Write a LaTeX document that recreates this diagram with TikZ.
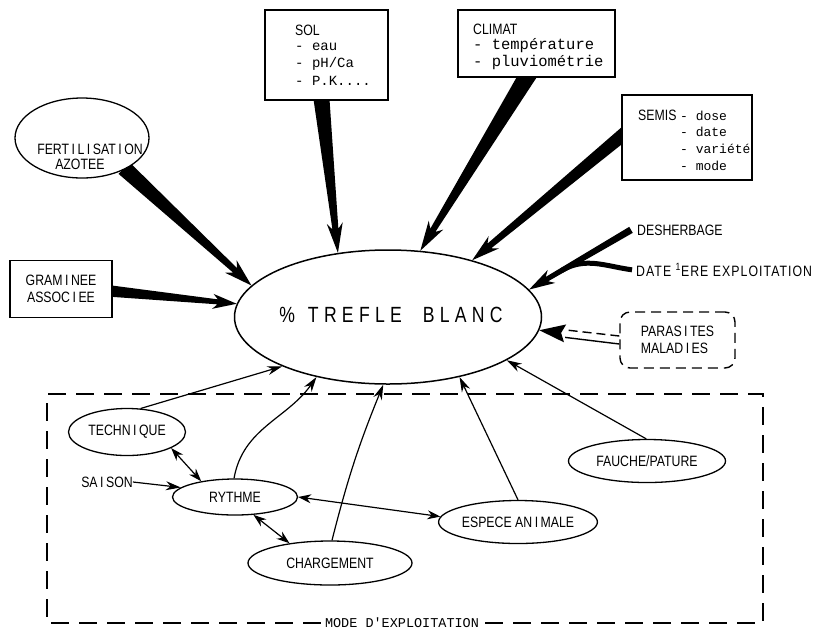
\documentclass[tikz,border=0pt]{standalone}
\usepackage{fontspec}
\usetikzlibrary{calc,shapes.geometric,arrows.meta}
\newfontfamily\labf[FakeStretch=0.82]{Liberation Sans}
\newfontfamily\bigf[FakeStretch=0.8,LetterSpace=24]{Liberation Sans}
\newfontfamily\datef[FakeStretch=0.82,LetterSpace=7]{Liberation Sans}
\newfontfamily\monof{Liberation Mono}
\newcommand\Iw{\kern2.5pt I\kern2.5pt}
\pgfdeclarelayer{background}
\pgfsetlayers{background,main}
% #1 start, #2 tip, #3 half width at start, #4 half width near head, #5 half width of head, #6 head length
\newcommand\wedgearrow[6]{%
  \coordinate (wa-b) at ($(#2)!#6pt!(#1)$);
  \coordinate (wa-n) at ($(#2)!0.8*#6pt!(#1)$);
  \fill ($(#1)!#3pt!90:(#2)$) -- ($(wa-n)!#4pt!90:(#2)$) -- ($(wa-b)!#5pt!90:(#2)$) -- (#2)
     -- ($(wa-b)!#5pt!-90:(#2)$) -- ($(wa-n)!#4pt!-90:(#2)$) -- ($(#1)!#3pt!-90:(#2)$) -- cycle;
}
\begin{document}
\begin{tikzpicture}[x=1pt,y=-1pt,
  labs/.style={font=\labf\fontsize{15}{17}\selectfont, inner sep=0pt},
  boxn/.style={draw, line width=1.5pt, fill=white, inner sep=0pt},
  elln/.style={draw, ellipse, line width=1.3pt, fill=white, inner sep=0pt},
  mtext/.style={font=\monof\fontsize{14}{16}\selectfont, anchor=base west, inner sep=0pt},
  ctxt/.style={font=\monof\fontsize{15.5}{17}\selectfont, anchor=base west, inner sep=0pt},
  stxt/.style={font=\monof\fontsize{13}{15}\selectfont, anchor=base west, inner sep=0pt},
  htxt/.style={labs, anchor=base west},
  arr/.style={line width=1.2pt, -{Stealth[length=15pt,width=9pt]}},
  darr/.style={line width=1.2pt, {Stealth[length=13pt,width=9pt]}-{Stealth[length=13pt,width=9pt]}},
  modeframe/.style={line width=1.5pt, dash pattern=on 18pt off 10pt},
]
\useasboundingbox (0,0) rectangle (829,630);

% central ellipse
\node[elln, line width=1.5pt, minimum width=307pt, minimum height=134pt] (main) at (388,317) {};
\node[font=\bigf\fontsize{22}{24}\selectfont, inner sep=0pt] (title) at (391,315) {\%\hspace{13pt}TREFLE\hspace{21pt}BLANC};

% top-left factors
\node[elln, minimum width=134pt, minimum height=80pt] (fert) at (82,138) {};
\node[labs, align=left] (fertlab) at (90,157) {FERT\Iw L\Iw SAT\Iw ON\\[-2pt]\hspace{18pt}AZOTEE};
\node[boxn, labs, align=center, minimum width=102pt, minimum height=57pt] (gram) at (61,289) {GRAM\Iw NEE\\ASSOC\Iw EE};

% SOL box
\node[boxn, minimum width=123pt, minimum height=90pt] (sol) at (326.5,55) {};
\node[htxt] (sol0) at (295,35) {SOL};
\node[mtext] (sol1) at (295,50) {- eau};
\node[mtext] (sol2) at (295,67) {- pH/Ca};
\node[mtext] (sol3) at (295,85) {- P.K....};

% CLIMAT box
\node[boxn, minimum width=157pt, minimum height=67pt] (clim) at (536.5,43.5) {};
\node[htxt] (cli0) at (473,34) {CLIMAT};
\node[ctxt] (cli1) at (473,49) {- température};
\node[ctxt] (cli2) at (473,66) {- pluviométrie};

% SEMIS box
\node[boxn, minimum width=130pt, minimum height=85pt] (semis) at (687,137.5) {};
\node[htxt] (sem0) at (638,120) {SEMIS};
\node[stxt] (sem1) at (680,120) {- dose};
\node[stxt] (sem2) at (680,136) {- date};
\node[stxt] (sem3) at (680,153) {- variété};
\node[stxt] (sem4) at (680,170) {- mode};

% right side
\node[htxt] (desh) at (637,235) {DESHERBAGE};
\node[font=\datef\fontsize{15}{17}\selectfont, inner sep=0pt, anchor=base west] (date) at (636,276) {DATE \textsuperscript{1}ERE EXPLOITATION};
\node[draw, line width=1.4pt, dash pattern=on 10pt off 6pt, rounded corners=10pt, fill=white,
      labs, align=left, minimum width=115pt, minimum height=56pt] (para) at (677.5,340) {PARAS\Iw TES\\MALAD\Iw ES};

% mode d'exploitation
\node[elln, labs, minimum width=117pt, minimum height=47pt] (tech) at (127,432) {TECHN\Iw QUE};
\node[elln, labs, minimum width=125pt, minimum height=36pt] (ryth) at (235,497) {RYTHME};
\node[elln, labs, minimum width=164pt, minimum height=44pt] (charg) at (330,563) {CHARGEMENT};
\node[elln, labs, minimum width=157pt, minimum height=43pt] (esp) at (518,522) {ESPECE AN\Iw MALE};
\node[elln, labs, minimum width=157pt, minimum height=43pt] (fau) at (647,461) {FAUCHE/PATURE};
\node[labs] (sais) at (107,482) {SA\Iw SON};
\node[font=\monof\fontsize{13.5}{15}\selectfont, inner xsep=4pt, inner ysep=0pt] (mode) at (402,623) {MODE D'EXPLOITATION};

\coordinate (fr1) at (47,623);
\coordinate (fr2) at (47,394);
\coordinate (fr3) at (763,394);
\coordinate (fr4) at (763,623);
\draw[modeframe] (mode.west) -- (fr1) -- (fr2) -- (fr3) -- (fr4) -- (mode.east);

% thin arrows
\draw[arr] (tech.60) -- (main.205);
\draw[arr] (ryth.93) to[out=80, in=235] (main.220);
\draw[arr] (charg.85) to[bend left=4] (main.266);
\draw[arr] (esp.90) -- (main.-40);
\draw[arr] (fau.92) -- (main.-20);
\draw[arr] (sais.east) -- (ryth.170);
\draw[darr] (tech.-20) -- (ryth.155);
\draw[darr] (ryth.-44) -- (charg.154);
\draw[darr] (ryth.0) -- (esp.176);

% parasites double arrow
\coordinate (parT) at (main.-5);
\coordinate (parH) at ($(parT)!26pt!(para.west)$);
\draw[line width=1.4pt, dash pattern=on 9pt off 5pt] ($(para.west)+(0,-4)$) -- ($(parH)+(0,-3.5)$);
\draw[line width=1.4pt] ($(para.west)+(0,4)$) -- ($(parH)+(0,4)$);
\fill ($(parH)!9pt!90:(parT)$) -- (parT) -- ($(parH)!9pt!-90:(parT)$) -- ($(parT)!22pt!(parH)$) -- cycle;

% thick wedge arrows
\coordinate (fertS) at (124,168);
\coordinate (gramS) at (100,290);
\coordinate (solS) at (320,85);
\coordinate (climS) at (534,65);
\coordinate (semS) at (636,124);
\coordinate (deshS) at ($(desh.west)+(-6,0)$);
\coordinate (dateS) at ($(date.west)+(-4,0)$);
\coordinate (merge) at ($(deshS)!0.68!(main.11.5)$);
\begin{pgfonlayer}{background}
\wedgearrow{fertS}{main.167}{8}{3}{8.5}{28}
\wedgearrow{gramS}{main.175}{6}{2.5}{7.5}{24}
\wedgearrow{solS}{main.128}{8.5}{3}{8}{30}
\wedgearrow{climS}{main.64}{9}{3}{8.5}{30}
\wedgearrow{semS}{main.34}{7}{3}{8}{28}
\wedgearrow{deshS}{main.11.5}{3.5}{2.5}{7.5}{26}
\draw[line width=5pt] (dateS) to[out=172, in=30] (merge);
\end{pgfonlayer}
\end{tikzpicture}
\end{document}
